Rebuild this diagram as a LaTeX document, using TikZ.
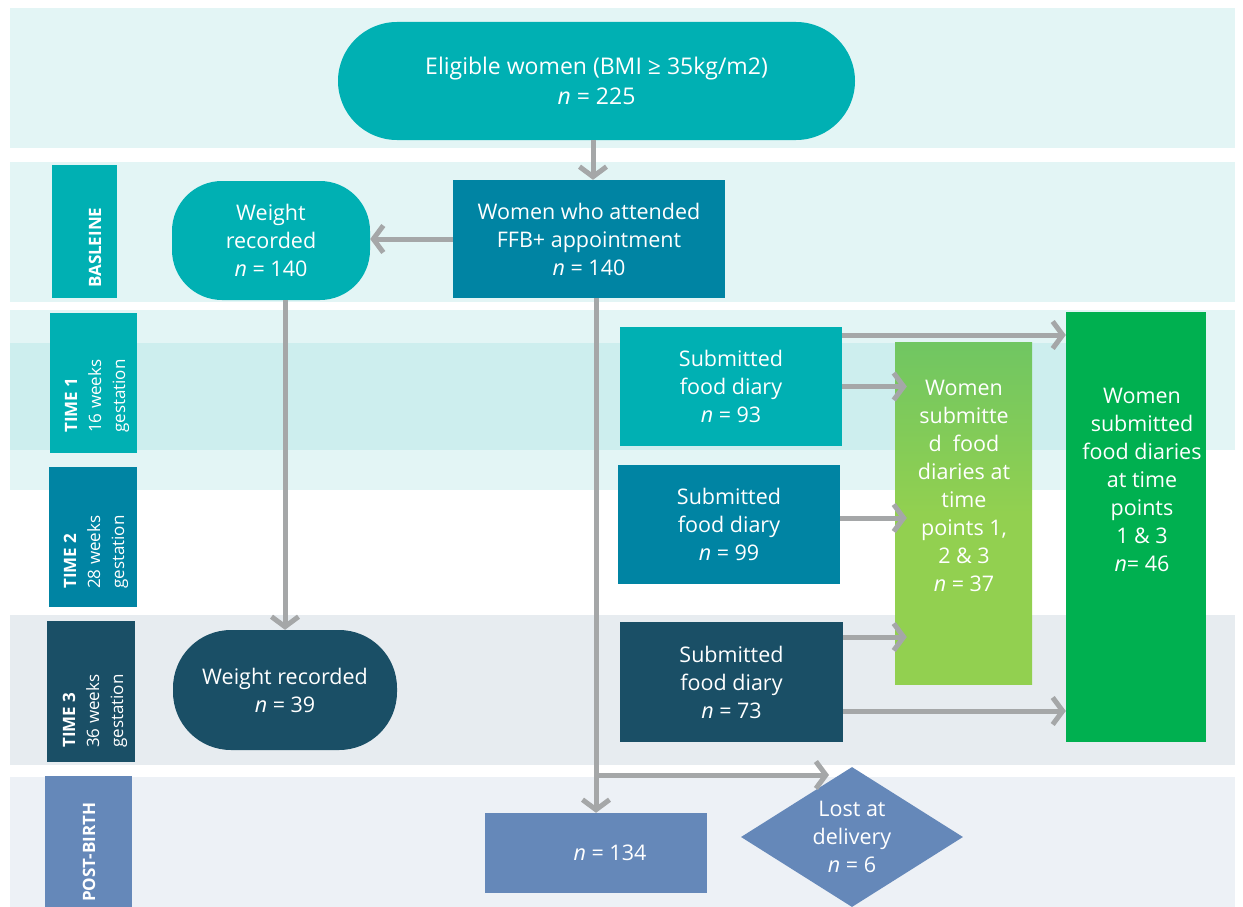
\documentclass[tikz,border=0pt]{standalone}
\usepackage{fontspec}
\setmainfont{Open Sans}
\usetikzlibrary{arrows.meta,shapes.geometric}
\definecolor{bandA}{HTML}{E3F5F5}
\definecolor{bandB}{HTML}{CDEEEE}
\definecolor{bandC}{HTML}{E7ECF0}
\definecolor{bandD}{HTML}{EDF1F6}
\definecolor{cTeal}{HTML}{00B0B3}
\definecolor{cMid}{HTML}{0084A3}
\definecolor{cDark}{HTML}{1A4F66}
\definecolor{cSlate}{HTML}{6588B9}
\definecolor{gLight}{HTML}{92D050}
\definecolor{gLightTop}{HTML}{70C662}
\definecolor{gDark}{HTML}{00B050}
\definecolor{arrGray}{HTML}{A5A7A8}
\newcommand\mainfnt{\fontsize{21.5}{28}\selectfont}
\newcommand\bigfnt{\fontsize{23}{30}\selectfont}
\newcommand\labfnt{\fontsize{17}{24}\selectfont}
\begin{document}
\begin{tikzpicture}[x=1pt,y=-1pt,
  box/.style={draw=none,text=white,align=center,inner sep=0pt,font=\mainfnt},
  labbox/.style={draw=none,inner sep=0pt},
  labtxt/.style={text=white,rotate=90,anchor=west,align=left,inner sep=0pt,font=\labfnt},
  arr/.style={draw=arrGray,line width=5pt,-{Straight Barb[length=10pt,width=27pt]}}
]
\useasboundingbox (0,0) rectangle (1243,907);
% background bands
\fill[bandA] (10,8) rectangle (1235,148);
\fill[bandA] (10,162) rectangle (1235,302);
\fill[bandA] (10,310) rectangle (1150,490);
\fill[bandA] (1150,310) rectangle (1235,450);
\fill[bandB] (10,343) rectangle (1150,450);
\fill[bandC] (10,615) rectangle (1235,765);
\fill[bandD] (10,777) rectangle (1235,907);

% left labels
\node[labbox,fill=cTeal,minimum width=65,minimum height=133] (lb0) at (84.5,231.5) {};
\node[labtxt] (lt0) at (95,288) {\bfseries BASLEINE};
\node[labbox,fill=cTeal,minimum width=87,minimum height=140] (lb1) at (93.5,383) {};
\node[labtxt] (lt1) at (97,433) {\bfseries TIME 1\\16 weeks\\gestation};
\node[labbox,fill=cMid,minimum width=88,minimum height=140] (lb2) at (93,537) {};
\node[labtxt] (lt2) at (96,589) {\bfseries TIME 2\\28 weeks\\gestation};
\node[labbox,fill=cDark,minimum width=88,minimum height=141] (lb3) at (91,691.5) {};
\node[labtxt] (lt3) at (95,748) {\bfseries TIME 3\\36 weeks\\gestation};
\node[labbox,fill=cSlate,minimum width=87,minimum height=131] (lb4) at (88.5,841.5) {};
\node[labtxt] (lt4) at (89,902) {\bfseries POST-BIRTH};

% main nodes
\node[box,font=\bigfnt,fill=cTeal,rounded corners=59pt,minimum width=517,minimum height=118] (elig) at (596.5,81)
  {Eligible women (BMI ≥ 35kg/m2)\\\textit{n} = 225};
\node[box,fill=cMid,minimum width=272,minimum height=118] (ffb) at (589,239)
  {Women who attended\\FFB+ appointment\\\textit{n} = 140};
\node[box,fill=cTeal,rounded corners=50pt,minimum width=198,minimum height=119] (wb) at (271,240.5)
  {Weight\\recorded\\\textit{n} = 140};
\node[box,fill=cDark,rounded corners=58pt,minimum width=224,minimum height=120] (wr) at (285,690)
  {Weight recorded\\\textit{n} = 39};
\node[box,fill=cTeal,minimum width=222,minimum height=119] (f93) at (731,386.5)
  {Submitted\\food diary\\\textit{n} = 93};
\node[box,fill=cMid,minimum width=222,minimum height=119] (f99) at (729,524.5)
  {Submitted\\food diary\\\textit{n} = 99};
\node[box,fill=cDark,minimum width=223,minimum height=120] (f73) at (731.5,682)
  {Submitted\\food diary\\\textit{n} = 73};
\node[box,shading=axis,top color=gLightTop,bottom color=gLight,middle color=gLight,minimum width=137,minimum height=342] (lg) at (963.5,513) {};
\node[box,fill=gDark,minimum width=140,minimum height=430] (dg) at (1136,527) {};
\node[box,fill=cSlate,minimum width=222,minimum height=80] (n134) at (596,853)
  {\hspace*{28pt}\textit{n} = 134};
\node[box,fill=cSlate,diamond,aspect=1.6,minimum width=222,minimum height=140] (lost) at (852,837)
  {Lost at\\delivery\\\textit{n} = 6};

% arrows
\coordinate (ax) at (593,0);
\draw[arr] (elig.south -| ax) -- (ffb.north -| ax);
\draw[arr] (ffb.west) -- (ffb.west -| wb.east);
\draw[arr] (wb.south -| wr.north) -- (wr.north);
\draw[arr] (ffb.south -| n134.north) -- (n134.north);
\coordinate (br) at (596,775);
\coordinate (lostin) at (829,775);
\draw[arr] (br) -- (lostin);
\draw[arr] ([yshift=51.5pt]f93.east) -- ([yshift=51.5pt]f93.east -| dg.west);
\draw[arr,shorten >=-12pt] (f93.east) -- (f93.east -| lg.west);
\draw[arr,shorten >=-12pt] ([yshift=6.5pt]f99.east) -- ([yshift=6.5pt]f99.east -| lg.west);
\draw[arr,shorten >=-12pt] ([yshift=45pt]f73.east) -- ([yshift=45pt]f73.east -| lg.west);
\draw[arr] ([yshift=-29pt]f73.east) -- ([yshift=-29pt]f73.east -| dg.west);

% texts in green boxes
\node[box] (lgt) at (964,486)
  {Women\\submitte\\d\ \ food\\diaries at\\time\\points 1,\\2 \& 3\\\textit{n} = 37};
\node[box] (dgt) at (1142,480)
  {Women\\submitted\\food diaries\\at time\\points\\1 \& 3\\\textit{n}= 46};
\end{tikzpicture}
\end{document}
